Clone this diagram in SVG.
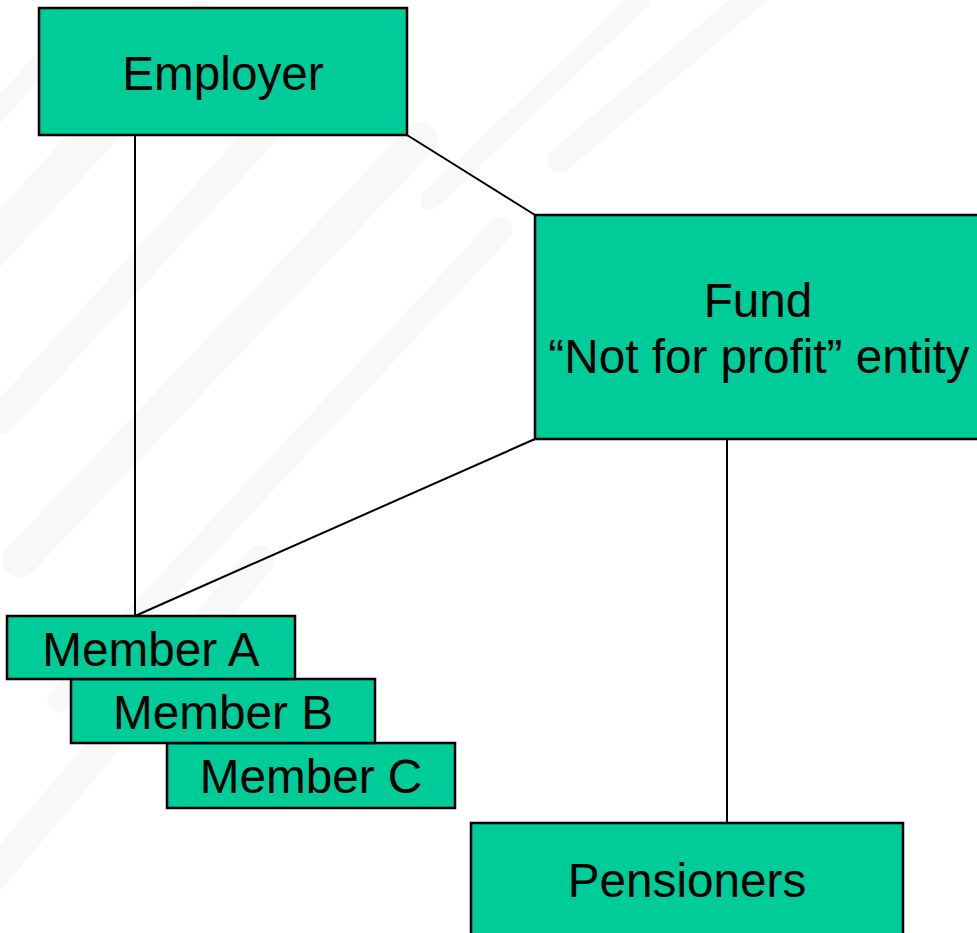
<svg xmlns="http://www.w3.org/2000/svg" width="977" height="933" viewBox="0 0 977 933">
<style>
.box{fill:#00CC99;stroke:#000;stroke-width:2.5}
.lbl{font-family:"Liberation Sans",Arial,sans-serif;font-size:47.7px;fill:#000;text-anchor:middle}
.con{stroke:#000;stroke-width:2;fill:none}
.bg{stroke:#f0f0f0;stroke-linecap:round;fill:none;opacity:0.45}
</style>
<rect width="977" height="933" fill="#ffffff"/>
<g id="background">
<path class="bg" stroke-width="40" d="M-20 260 L200 20"/>
<path class="bg" stroke-width="30" d="M0 420 L330 60"/>
<path class="bg" stroke-width="35" d="M20 560 L420 140"/>
<path class="bg" stroke-width="25" d="M60 700 L500 230"/>
<path class="bg" stroke-width="30" d="M-10 880 L260 560"/>
<path class="bg" stroke-width="20" d="M430 200 L640 0"/>
<path class="bg" stroke-width="25" d="M560 160 L760 -10"/>
<path class="bg" stroke-width="20" d="M-10 120 L80 20"/>
</g>
<g id="connectors">
<line class="con" x1="135" y1="135" x2="135" y2="616"/>
<line class="con" x1="407" y1="135" x2="535" y2="215"/>
<line class="con" x1="535" y1="439" x2="135" y2="616"/>
<line class="con" x1="727" y1="439" x2="727" y2="823"/>
</g>
<g id="employer">
<rect class="box" x="39" y="8" width="368" height="127"/>
<text class="lbl" x="223" y="90">Employer</text>
</g>
<g id="fund">
<rect class="box" x="535" y="215" width="450" height="224"/>
<text class="lbl" x="758" y="317">Fund</text>
<text class="lbl" x="759" y="373">“Not for profit” entity</text>
</g>
<g id="member-c">
<rect class="box" x="167" y="743" width="288" height="65"/>
<text class="lbl" x="311" y="793">Member C</text>
</g>
<g id="member-b">
<rect class="box" x="71" y="679" width="304" height="64"/>
<text class="lbl" x="223" y="729">Member B</text>
</g>
<g id="member-a">
<rect class="box" x="7" y="616" width="288" height="63"/>
<text class="lbl" x="151" y="666">Member A</text>
</g>
<g id="pensioners">
<rect class="box" x="471" y="823" width="432" height="120"/>
<text class="lbl" x="687" y="897">Pensioners</text>
</g>
</svg>
